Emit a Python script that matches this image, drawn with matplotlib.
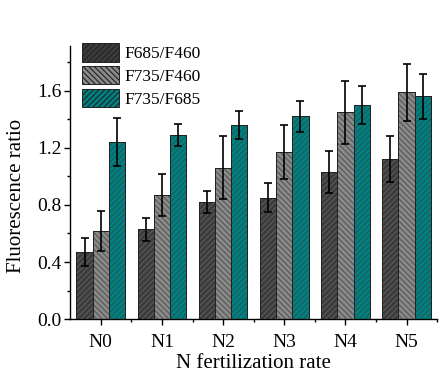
import numpy as np
import matplotlib
matplotlib.use('Agg')
import matplotlib.pyplot as plt
from matplotlib.patches import Patch
from matplotlib.ticker import MultipleLocator

plt.rcParams['font.family'] = ['Liberation Serif', 'DejaVu Serif']
plt.rcParams['hatch.linewidth'] = 0.8

groups = ['N0', 'N1', 'N2', 'N3', 'N4', 'N5']
series = ['F685/F460', 'F735/F460', 'F735/F685']
f685_f460 = [0.47, 0.63, 0.82, 0.85, 1.03, 1.12]
f685_f460_err = [0.10, 0.08, 0.08, 0.10, 0.15, 0.16]
f735_f460 = [0.62, 0.87, 1.06, 1.17, 1.45, 1.59]
f735_f460_err = [0.14, 0.15, 0.22, 0.19, 0.22, 0.20]
f735_f685 = [1.24, 1.29, 1.36, 1.42, 1.50, 1.56]
f735_f685_err = [0.17, 0.08, 0.10, 0.11, 0.13, 0.16]

values = [f685_f460, f735_f460, f735_f685]
errors = [f685_f460_err, f735_f460_err, f735_f685_err]
faces = ['#3b3b3b', '#8a8a8a', '#008080']
hatch_cols = ['#5c5c5c', '#555555', '#1f5a5a']
hatches = ['//////', '\\\\\\\\\\\\', '//////']

fig = plt.figure(figsize=(4.47, 3.84), dpi=100)
ax = fig.add_axes([0.157, 0.169, 0.821, 0.71])

x = np.arange(len(groups))
w = 0.265
for i in range(3):
    pos = x + (i - 1) * w
    ax.bar(pos, values[i], w, color=faces[i], edgecolor='#222222', linewidth=0.7, zorder=2)
    ax.bar(pos, values[i], w, fill=False, hatch=hatches[i], edgecolor=hatch_cols[i],
           linewidth=0, zorder=3)
    ax.bar(pos, values[i], w, fill=False, edgecolor='#222222', linewidth=0.7, zorder=4)
    ax.errorbar(pos, values[i], yerr=errors[i], fmt='none', ecolor='black',
                elinewidth=1.2, capsize=3.2, capthick=1.2, zorder=5)

ax.set_xlim(-0.5, 5.46)
ax.set_xticks(x)
ax.set_xticklabels(groups)
ax.set_xticks(x + 0.5, minor=True)
ax.set_yticks([0.0, 0.4, 0.8, 1.2, 1.6])
ax.set_yticklabels(['0.0', '0.4', '0.8', '1.2', '1.6'])
ax.yaxis.set_minor_locator(MultipleLocator(0.2))
ax.set_ylim(0, 1.91)
ax.tick_params(which='both', direction='out', labelsize=14, width=1)
ax.tick_params(which='major', length=4)
ax.tick_params(axis='y', which='major', pad=2)
ax.tick_params(axis='x', which='major', pad=7)
ax.tick_params(which='minor', length=2.5)
for s in ['top', 'right']:
    ax.spines[s].set_visible(False)
for s in ['left', 'bottom']:
    ax.spines[s].set_linewidth(1)

ax.set_xlabel('N fertilization rate', fontsize=15, labelpad=2)
ax.set_ylabel('Fluorescence ratio', fontsize=15)
ax.yaxis.set_label_coords(-0.12, 0.45)

handles = [Patch(facecolor=faces[i], edgecolor='#222222', hatch=hatches[i], linewidth=0.7)
           for i in range(3)]
ax.legend(handles, series, loc='upper left', bbox_to_anchor=(0.033, 1.012), frameon=False,
          fontsize=12.5, handlelength=2.1, handleheight=1.25, labelspacing=0.22,
          handletextpad=0.3, borderaxespad=0, borderpad=0)

fig.savefig('out.png', dpi=100)
